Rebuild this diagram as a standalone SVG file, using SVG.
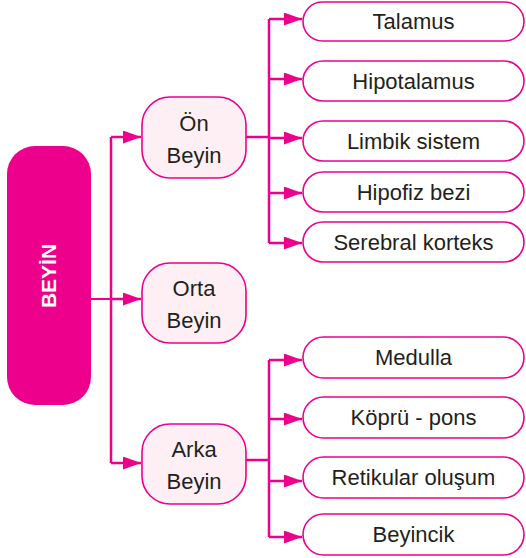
<svg xmlns="http://www.w3.org/2000/svg" width="526" height="558" viewBox="0 0 526 558">
<defs>
<style>
.c{fill:none;stroke:#EC008C;stroke-width:2.5}
.mid{fill:#FDEFF4;stroke:#EC008C;stroke-width:1.6}
.leaf{fill:#FFFFFF;stroke:#EC008C;stroke-width:1.6}
.t{font-family:"Liberation Sans",Arial,sans-serif;font-size:22px;fill:#231F20;text-anchor:middle}
.tb{font-family:"Liberation Sans",Arial,sans-serif;font-size:21px;font-weight:bold;fill:#FFFFFF;text-anchor:middle}
</style>
<marker id="ah" markerWidth="18" markerHeight="13" refX="18" refY="6.5" orient="auto" markerUnits="userSpaceOnUse">
<path d="M0,0 L18,6.5 L0,13 Z" fill="#EC008C"/>
</marker>
</defs>
<rect width="526" height="558" fill="#FFFFFF"/>
<g id="connectors">
<path class="c" d="M91,299 H111" style="stroke-width:2"/>
<path class="c" d="M111,137 V463"/>
<path class="c" d="M111,137 H141" marker-end="url(#ah)"/>
<path class="c" d="M111,299 H141" marker-end="url(#ah)"/>
<path class="c" d="M111,463 H141" marker-end="url(#ah)"/>
<path class="c" d="M246,137 H269"/>
<path class="c" d="M269,19 V243"/>
<path class="c" d="M269,19 H302" marker-end="url(#ah)"/>
<path class="c" d="M269,79 H302" marker-end="url(#ah)"/>
<path class="c" d="M269,138 H302" marker-end="url(#ah)"/>
<path class="c" d="M269,193 H302" marker-end="url(#ah)"/>
<path class="c" d="M269,243 H302" marker-end="url(#ah)"/>
<path class="c" d="M246,460 H269"/>
<path class="c" d="M269,360 V537"/>
<path class="c" d="M269,360 H302" marker-end="url(#ah)"/>
<path class="c" d="M269,419 H302" marker-end="url(#ah)"/>
<path class="c" d="M269,481 H302" marker-end="url(#ah)"/>
<path class="c" d="M269,537 H302" marker-end="url(#ah)"/>
</g>
<g id="beyin">
<rect x="7" y="146" width="84" height="259" rx="28" fill="#EC008C"/>
<text class="tb" transform="translate(56,276) rotate(-90)">BEYİN</text>
</g>
<g id="on-beyin">
<rect class="mid" x="142" y="97" width="104" height="81" rx="28"/>
<text class="t" x="194" y="130.5">Ön</text>
<text class="t" x="194" y="162.5">Beyin</text>
</g>
<g id="orta-beyin">
<rect class="mid" x="142" y="263" width="104" height="80" rx="28"/>
<text class="t" x="194" y="296">Orta</text>
<text class="t" x="194" y="328">Beyin</text>
</g>
<g id="arka-beyin">
<rect class="mid" x="142" y="424" width="104" height="80" rx="28"/>
<text class="t" x="194" y="457">Arka</text>
<text class="t" x="194" y="489">Beyin</text>
</g>
<g id="talamus">
<rect class="leaf" x="303" y="2" width="221" height="39" rx="19.5"/>
<text class="t" x="413.5" y="29">Talamus</text>
</g>
<g id="hipotalamus">
<rect class="leaf" x="303" y="61" width="221" height="40" rx="20"/>
<text class="t" x="413.5" y="88.5">Hipotalamus</text>
</g>
<g id="limbik">
<rect class="leaf" x="303" y="121" width="221" height="40" rx="20"/>
<text class="t" x="413.5" y="148.5">Limbik sistem</text>
</g>
<g id="hipofiz">
<rect class="leaf" x="303" y="172" width="221" height="40" rx="20"/>
<text class="t" x="413.5" y="199.5">Hipofiz bezi</text>
</g>
<g id="serebral">
<rect class="leaf" x="303" y="222" width="221" height="40" rx="20"/>
<text class="t" x="413.5" y="249.5">Serebral korteks</text>
</g>
<g id="medulla">
<rect class="leaf" x="303" y="337" width="221" height="41" rx="20.5"/>
<text class="t" x="413.5" y="365">Medulla</text>
</g>
<g id="kopru">
<rect class="leaf" x="303" y="397" width="221" height="41" rx="20.5"/>
<text class="t" x="413.5" y="425">Köprü - pons</text>
</g>
<g id="retikular">
<rect class="leaf" x="303" y="457" width="221" height="41" rx="20.5"/>
<text class="t" x="413.5" y="485">Retikular oluşum</text>
</g>
<g id="beyincik">
<rect class="leaf" x="303" y="514" width="221" height="41" rx="20.5"/>
<text class="t" x="413.5" y="542">Beyincik</text>
</g>
</svg>
